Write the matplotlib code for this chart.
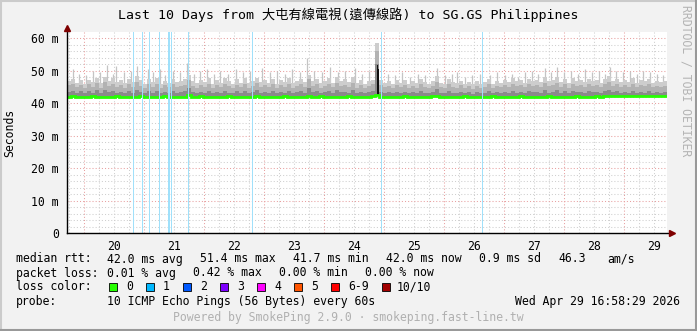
import numpy as np
import matplotlib
matplotlib.use('Agg')
from matplotlib import pyplot as plt
from matplotlib.patches import Rectangle
from matplotlib.lines import Line2D

plt.rcParams['font.family'] = ['DejaVu Sans Mono', 'Noto Sans CJK TC']

#%% data
title = 'Last 10 Days from 大屯有線電視(遠傳線路) to SG.GS Philippines'
t_start, t_end = 19.717, 29.717          # day of April (end = Apr 29 ~17:12)
day_labels = ['20', '21', '22', '23', '24', '25', '26', '27', '28', '29']
y_ticks = [0, 10, 20, 30, 40, 50, 60]
y_labels = ['0', '10 m', '20 m', '30 m', '40 m', '50 m', '60 m']

# smoke body: highest ping per bin (ms), 150 bins over 10 days
smoke_max = [
    46.8, 47.5, 46.2, 47.0, 46.0, 47.2, 46.5, 47.8, 46.3, 48.0,
    46.9, 47.6, 46.4, 47.2, 46.1, 47.5, 46.6, 48.2, 47.0, 46.0,
    47.3, 46.4, 47.8, 46.0, 46.9, 46.3, 47.5, 46.6, 46.8, 47.4,
    48.5, 46.7, 46.1, 47.2, 46.4, 47.6, 46.0, 47.0, 46.3, 47.7,
    46.8, 46.0, 47.4, 46.3, 47.6, 46.1, 46.9, 47.8, 46.4, 47.1,
    46.3, 47.5, 46.0, 47.0, 46.6, 47.7, 46.2, 46.9, 47.3, 46.4,
    48.6, 46.7, 47.4, 46.2, 46.8, 47.6, 46.3, 48.0, 46.8, 47.3,
    46.5, 47.9, 46.3, 47.0, 46.0, 46.7, 47.2, 58.5, 47.0, 46.2,
    46.7, 45.9, 47.0, 46.3, 47.2, 46.0, 46.8, 46.1, 47.4, 46.5,
    46.0, 46.8, 48.2, 46.3, 45.8, 47.3, 46.5, 46.1, 46.9, 46.0,
    46.6, 45.7, 46.8, 46.0, 46.5, 47.4, 45.9, 46.7, 46.2, 47.0,
    46.4, 47.6, 46.7, 47.1, 46.2, 47.5, 46.8, 47.2, 46.5, 47.9,
    46.7, 47.2, 48.0, 46.4, 47.4, 46.2, 47.6, 46.9, 47.1, 46.4,
    47.5, 46.8, 47.2, 46.2, 47.4, 48.3, 46.9, 47.5, 46.4, 47.2,
    46.6, 47.6, 46.2, 47.0, 46.7, 47.3, 46.2, 46.9, 46.5, 46.8,
]
# inner smoke (pings 2..9)
smoke_mid = [
    45.4, 46.0, 44.8, 45.6, 44.6, 45.8, 45.0, 46.2, 44.7, 46.5,
    45.2, 46.0, 44.9, 45.5, 44.6, 45.9, 45.0, 46.4, 45.3, 44.6,
    45.7, 44.8, 46.0, 44.5, 45.4, 44.9, 45.8, 45.0, 45.3, 45.6,
    47.0, 45.2, 44.6, 45.5, 44.8, 45.9, 44.5, 45.4, 44.9, 46.0,
    45.1, 44.5, 45.6, 44.8, 45.9, 44.6, 45.2, 46.1, 44.9, 45.5,
    44.8, 45.8, 44.5, 45.4, 45.0, 46.0, 44.6, 45.3, 45.7, 44.8,
    47.5, 45.2, 45.8, 44.6, 45.3, 46.0, 44.9, 46.3, 45.2, 45.6,
    44.9, 46.2, 44.7, 45.4, 44.5, 45.2, 45.8, 56.0, 45.6, 44.8,
    45.3, 44.5, 45.6, 44.8, 45.5, 44.6, 45.2, 44.7, 45.8, 45.0,
    44.6, 45.3, 46.4, 44.9, 44.5, 45.7, 45.0, 44.6, 45.4, 44.7,
    45.2, 44.4, 45.3, 44.7, 45.0, 45.9, 44.5, 45.2, 44.8, 45.6,
    44.9, 46.0, 45.1, 45.5, 44.8, 45.9, 45.2, 45.6, 44.9, 46.3,
    45.1, 45.6, 46.2, 44.9, 45.7, 44.7, 46.0, 45.2, 45.5, 44.8,
    45.9, 45.2, 45.6, 44.8, 45.7, 46.4, 45.2, 45.8, 44.9, 45.5,
    45.0, 45.9, 44.8, 45.4, 45.1, 45.7, 44.8, 45.3, 45.0, 45.2,
]
# core smoke (pings 4..7)
smoke_core = [
    43.4, 43.8, 43.0, 43.6, 43.1, 43.7, 43.2, 43.9, 43.0, 44.0,
    43.3, 43.8, 43.1, 43.5, 43.0, 43.7, 43.2, 44.0, 43.4, 43.0,
    43.6, 43.1, 43.8, 43.0, 43.4, 43.1, 43.7, 43.2, 43.4, 43.6,
    44.6, 43.3, 43.0, 43.5, 43.1, 43.7, 43.0, 43.4, 43.1, 43.8,
    43.2, 43.0, 43.6, 43.1, 43.7, 43.0, 43.3, 43.9, 43.1, 43.5,
    43.1, 43.6, 43.0, 43.4, 43.2, 43.8, 43.0, 43.3, 43.6, 43.1,
    44.5, 43.3, 43.7, 43.0, 43.4, 43.8, 43.1, 44.0, 43.3, 43.5,
    43.1, 43.9, 43.0, 43.4, 43.0, 43.3, 43.8, 52.0, 43.5, 43.1,
    43.4, 43.0, 43.5, 43.1, 43.4, 43.0, 43.3, 43.0, 43.6, 43.2,
    43.0, 43.4, 44.2, 43.1, 43.0, 43.6, 43.2, 43.0, 43.4, 43.0,
    43.3, 42.9, 43.4, 43.0, 43.2, 43.7, 43.0, 43.3, 43.1, 43.5,
    43.1, 43.8, 43.2, 43.5, 43.1, 43.7, 43.3, 43.5, 43.1, 44.0,
    43.2, 43.5, 43.9, 43.1, 43.6, 43.0, 43.8, 43.3, 43.5, 43.1,
    43.7, 43.3, 43.5, 43.1, 43.6, 44.1, 43.3, 43.7, 43.1, 43.5,
    43.2, 43.7, 43.1, 43.4, 43.2, 43.6, 43.1, 43.4, 43.2, 43.3,
]
median_rtt = [
    42.0, 42.1, 42.0, 41.9, 42.0, 42.0, 42.1, 42.0, 42.0, 41.9,
    42.0, 42.0, 42.1, 42.0, 41.9, 42.0, 42.0, 42.0, 42.1, 42.0,
    42.0, 41.9, 42.0, 42.0, 42.1, 42.0, 42.0, 42.0, 41.9, 42.0,
    42.5, 42.0, 42.0, 42.1, 42.0, 42.0, 41.9, 42.0, 42.0, 42.0,
    42.1, 42.0, 42.0, 42.0, 41.9, 42.0, 42.0, 42.1, 42.0, 42.0,
    42.0, 42.0, 41.9, 42.0, 42.1, 42.0, 42.0, 42.0, 42.0, 41.9,
    42.2, 42.0, 42.0, 42.1, 42.0, 42.0, 41.9, 42.0, 42.0, 42.0,
    42.1, 42.0, 42.0, 41.9, 42.0, 42.0, 42.3, 42.4, 42.0, 42.0,
    42.0, 41.9, 42.0, 42.0, 42.1, 42.0, 42.0, 42.0, 41.9, 42.0,
    42.0, 42.1, 42.2, 42.0, 42.0, 41.9, 42.0, 42.0, 42.0, 42.1,
    42.0, 42.0, 41.9, 42.0, 42.0, 42.0, 42.1, 42.0, 42.0, 41.9,
    42.0, 42.0, 42.0, 42.1, 42.0, 42.0, 41.9, 42.0, 42.0, 42.0,
    42.1, 42.0, 42.0, 42.0, 41.9, 42.0, 42.0, 42.1, 42.0, 42.0,
    42.0, 42.0, 42.1, 42.0, 42.1, 42.2, 42.1, 42.1, 42.2, 42.1,
    42.2, 42.1, 42.1, 42.2, 42.1, 42.2, 42.1, 42.1, 42.2, 42.1,
]
# single high pings sticking out of the smoke (day of April, ms)
peak_days = [
    19.817, 19.917, 20.033, 20.150, 20.267, 20.383, 20.483, 20.533, 20.667, 20.783,
    20.883, 20.967, 21.067, 21.150, 21.267, 21.350, 21.483, 21.600, 21.717, 21.833,
    21.933, 22.050, 22.167, 22.267, 22.400, 22.533, 22.650, 22.767, 22.967, 23.100,
    23.217, 23.350, 23.467, 23.600, 23.717, 23.833, 23.967, 24.100, 24.233, 24.350,
    24.517, 24.633, 24.750, 25.067, 25.183, 25.300, 25.433, 25.567, 25.683, 25.883,
    26.017, 26.133, 26.217, 26.350, 26.467, 26.600, 26.767, 26.883, 27.017, 27.133,
    27.233, 27.350, 27.467, 27.567, 27.683, 27.783, 27.883, 28.000, 28.117, 28.233,
    28.350, 28.467, 28.583, 28.683, 28.767, 28.867, 28.983, 29.100, 29.217, 29.317,
    29.433, 29.550, 29.650,
]
peak_ms = [
    50.5, 49.0, 48.5, 50.0, 49.5, 51.7, 49.0, 51.5, 49.5, 50.0,
    51.5, 49.0, 50.5, 49.5, 50.5, 48.5, 50.0, 49.5, 52.3, 49.0,
    50.0, 50.5, 49.0, 50.0, 49.0, 50.5, 49.5, 50.0, 50.7, 49.5,
    50.0, 49.0, 50.5, 49.5, 53.8, 50.0, 49.5, 51.2, 49.5, 50.0,
    50.7, 49.0, 50.0, 49.0, 48.5, 49.5, 48.0, 49.0, 48.5, 50.7,
    48.5, 49.0, 49.5, 48.0, 48.5, 49.0, 48.5, 49.5, 48.5, 49.0,
    48.0, 49.5, 50.0, 49.0, 50.7, 49.5, 51.0, 49.5, 50.0, 49.0,
    50.5, 49.5, 50.0, 49.0, 51.2, 50.0, 49.5, 50.0, 49.0, 50.0,
    49.5, 49.0, 48.5,
]
# black core of the spike on the 24th
spike_days = [24.880, 24.895, 24.910, 24.925]
spike_top = [49.0, 51.7, 50.5, 46.0]

# samples with 1/10 packet loss (day of April)
loss_days = [20.822, 20.962, 21.088, 21.255, 21.405, 21.425, 21.445,
             21.728, 22.805, 24.945, 24.955, 26.638]

# legend
rtt_stats = ['42.0 ms avg', '51.4 ms max', '41.7 ms min', '42.0 ms now', '0.9 ms sd', '46.3', 'am/s']
pl_stats = ['0.01 % avg', '0.42 % max', '0.00 % min', '0.00 % now']
loss_names = ['0', '1', '2', '3', '4', '5', '6-9', '10/10']
loss_colors = ['#26ff00', '#00b8ff', '#0059ff', '#7e00ff', '#ff00ff', '#ff5500', '#ff0000', '#a10000']
probe_text = '10 ICMP Echo Pings (56 Bytes) every 60s'
date_text = 'Wed Apr 29 16:58:29 2026'
footer = 'Powered by SmokePing 2.9.0 · smokeping.fast-line.tw'

#%% layout (pixels)
W, H = 697, 331
fsize = 8.3
bg = '#f2f2f2'
rtt_x = [107, 200, 292.7, 386, 479.3, 558, 607]
pl_x = [107, 193.3, 278.7, 365.3]
box_x = [108.7, 145.7, 182.7, 219.7, 256.7, 293.7, 330.7, 381.7]
name_x = [126, 163, 200, 237, 274, 311, 348, 396.7]

def fx(x):
    return x / W

def fy(y):
    return 1 - y / H

fig = plt.figure(figsize=(W / 100, H / 100), dpi=100, facecolor=bg)
ax = fig.add_axes([fx(67), fy(233), 600 / W, 201 / H])
ax.set_facecolor('white')
ymax = 61.85
ax.set_xlim(t_start, t_end)
ax.set_ylim(0, ymax)

# grid
for d in np.arange(19.75, t_end, 0.25):
    if abs(d - round(d)) > 1e-6:
        ax.axvline(d, color='#cfcfcf', lw=0.75, ls=(0, (1, 2)), zorder=0)
for v in np.arange(2, 61, 2):
    if v % 10:
        ax.axhline(v, color='#cfcfcf', lw=0.75, ls=(0, (1, 2)), zorder=0)
for d in range(20, 30):
    ax.axvline(d, color='#e8a0a0', lw=0.75, ls=(0, (1, 2)), zorder=0.5)
for v in y_ticks[1:]:
    ax.axhline(v, color='#e8a0a0', lw=0.75, ls=(0, (1, 2)), zorder=0.5)

# smoke
edges = np.linspace(t_start, t_end, len(smoke_max) + 1)
ax.vlines(peak_days, 44, peak_ms, color='#c4c4c4', lw=0.9, zorder=1.9)
ax.stairs(smoke_max, edges, baseline=median_rtt, fill=True, color='#cdcdcd', lw=0, zorder=2)
ax.stairs(smoke_mid, edges, baseline=median_rtt, fill=True, color='#b2b2b2', lw=0, zorder=2.1)
ax.stairs(smoke_core, edges, baseline=median_rtt, fill=True, color='#8a8a8a', lw=0, zorder=2.2)
ax.fill_between(spike_days, 42.4, spike_top, step='mid', color='#101010', lw=0, zorder=2.3)
ax.stairs(median_rtt, edges, baseline=None, color='#26ff00', lw=2.0, zorder=3)

# loss bars
for d in loss_days:
    ax.axvspan(d, d + 1 / 60, color='#a0e0fa', lw=0, zorder=4)

# axes
for s in ax.spines.values():
    s.set_visible(False)
ax.plot([t_start, 29.80], [0, 0], color='black', lw=1, clip_on=False, zorder=5)
ax.plot([t_start, t_start], [0, 63.2], color='black', lw=1, clip_on=False, zorder=5)
ax.plot([29.80], [0], marker='>', color='#7f0000', ms=4, clip_on=False, zorder=6)
ax.plot([t_start], [63.2], marker='^', color='#7f0000', ms=4, clip_on=False, zorder=6)

ax.set_xticks([int(d) + 0.5 for d in day_labels])
ax.set_xticklabels(day_labels, fontsize=fsize)
ax.set_yticks(y_ticks)
ax.set_yticklabels(y_labels, fontsize=fsize)
ax.tick_params(axis='x', length=0, pad=5)
ax.tick_params(axis='y', length=0, pad=6)

# texts
fig.text(fx(348), fy(15), title, ha='center', va='center', fontsize=9.5)
fig.text(fx(10), fy(133), 'Seconds', rotation=90, ha='center', va='center', fontsize=fsize)
fig.text(fx(686), fy(5), 'RRDTOOL / TOBI OETIKER', rotation=270, ha='center', va='top',
         fontsize=fsize, color='#b4b4b4')

fig.text(fx(16), fy(259), 'median rtt:', va='center', fontsize=fsize)
for s, x in zip(rtt_stats, rtt_x):
    fig.text(fx(x), fy(259), s, va='center', fontsize=fsize)
fig.text(fx(16), fy(273), 'packet loss:', va='center', fontsize=fsize)
for s, x in zip(pl_stats, pl_x):
    fig.text(fx(x), fy(273), s, va='center', fontsize=fsize)
fig.text(fx(16), fy(287), 'loss color:', va='center', fontsize=fsize)
for name, c, bx, nx in zip(loss_names, loss_colors, box_x, name_x):
    fig.patches.append(Rectangle((fx(bx), fy(291)), 8 / W, 8 / H, facecolor=c,
                                 edgecolor='black', lw=0.6, transform=fig.transFigure, figure=fig))
    fig.text(fx(nx), fy(287), name, va='center', fontsize=fsize)
fig.text(fx(16), fy(301), 'probe:', va='center', fontsize=fsize)
fig.text(fx(107), fy(301), probe_text, va='center', fontsize=fsize)
fig.text(fx(680), fy(301), date_text, va='center', ha='right', fontsize=fsize)
fig.text(fx(348), fy(318), footer, va='center', ha='center', fontsize=fsize, color='#b0b0b0')

# 3d frame
for (x0, y0, x1, y1, c) in [(0, 0.5, W, 0.5, '#cbcbcb'), (0.5, 0, 0.5, H, '#cbcbcb'),
                            (0, H - 1, W, H - 1, '#999999'), (W - 1, 0, W - 1, H, '#999999')]:
    fig.add_artist(Line2D([fx(x0), fx(x1)], [fy(y0), fy(y1)], color=c, lw=1.5,
                          transform=fig.transFigure))

fig.savefig('out.png', dpi=100, facecolor=bg)
